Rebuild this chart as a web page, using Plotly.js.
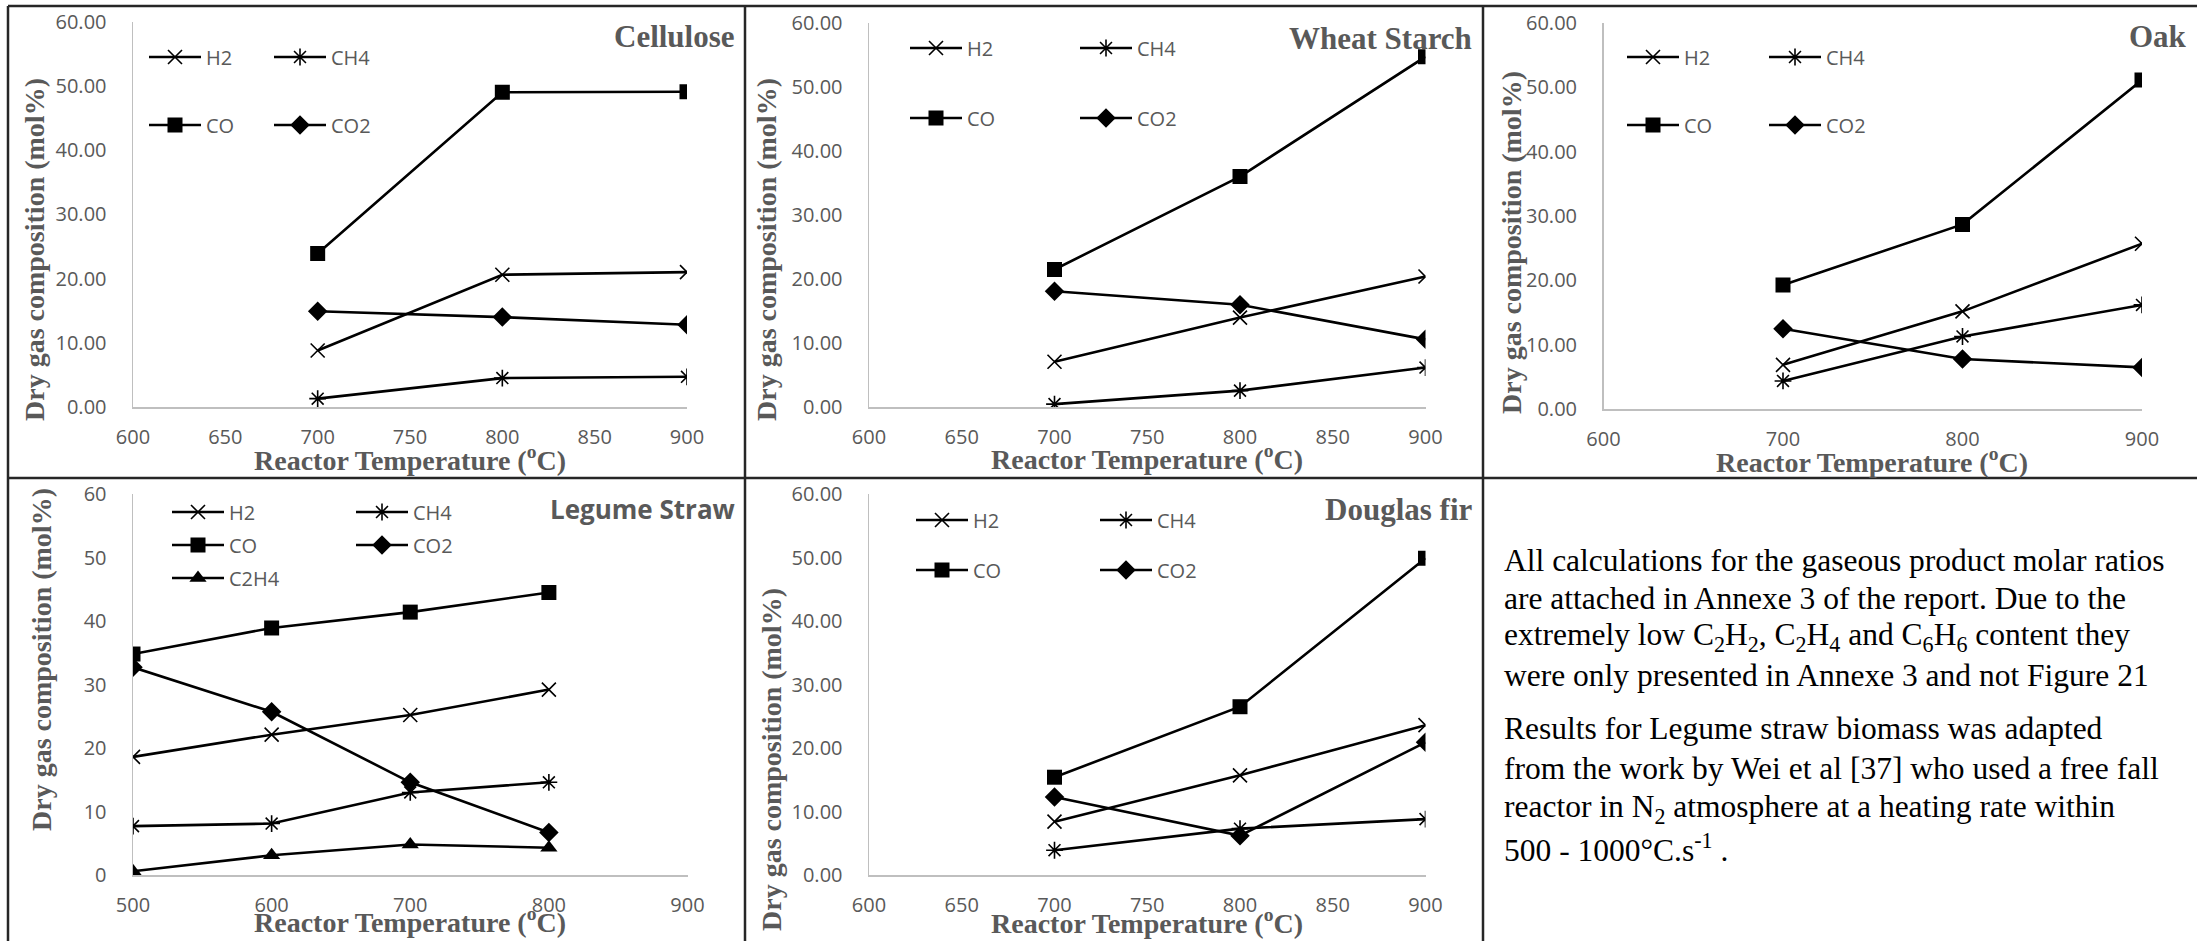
<!DOCTYPE html>
<html>
<head>
<meta charset="utf-8">
<script src="https://cdn.plot.ly/plotly-3.0.1.min.js"></script>
<style>html,body{margin:0;padding:0;background:#fff;}#chart{width:2197px;height:941px;}</style>
</head>
<body>
<div id="chart"></div>
<script>
// ---------- data ----------
const tempsHigh = [700, 800, 900];
const tempsLegume = [500, 600, 700, 800];

const cellH2  = [8.8, 20.6, 21.0];
const cellCH4 = [1.3, 4.5, 4.7];
const cellCO  = [23.9, 49.0, 49.1];
const cellCO2 = [14.9, 14.0, 12.8];

const wheatH2  = [7.1, 14.0, 20.4];
const wheatCH4 = [0.5, 2.6, 6.2];
const wheatCO  = [21.5, 36.0, 54.7];
const wheatCO2 = [18.1, 16.0, 10.6];

const oakH2  = [6.9, 15.2, 25.7];
const oakCH4 = [4.4, 11.3, 16.2];
const oakCO  = [19.3, 28.7, 51.1];
const oakCO2 = [12.5, 7.8, 6.5];

const legH2   = [18.6, 22.1, 25.2, 29.2];
const legCH4  = [7.7, 8.1, 13.0, 14.6];
const legCO   = [34.8, 38.9, 41.4, 44.5];
const legCO2  = [32.7, 25.7, 14.6, 6.7];
const legC2H4 = [0.6, 3.1, 4.8, 4.3];

const firH2  = [8.4, 15.7, 23.6];
const firCH4 = [3.9, 7.3, 8.8];
const firCO  = [15.4, 26.5, 49.9];
const firCO2 = [12.3, 6.2, 20.9];

const panelTitles = ["Cellulose", "Wheat Starch", "Oak", "Legume Straw", "Douglas fir"];
const yTitle = "Dry gas composition (mol%)";
const xTitle = "Reactor Temperature (<sup>o</sup>C)";
const para1Lines = [
  "All calculations for the gaseous product molar ratios",
  "are attached in Annexe 3 of the report. Due to the",
  "extremely low C<sub>2</sub>H<sub>2</sub>, C<sub>2</sub>H<sub>4</sub> and C<sub>6</sub>H<sub>6</sub> content they",
  "were only presented in Annexe 3 and not Figure 21"
];
const para2Lines = [
  "Results for Legume straw biomass was adapted",
  "from the work by Wei et al [37] who used a free fall",
  "reactor in N<sub>2</sub> atmosphere at a heating rate within",
  "500 - 1000°C.s<sup>-1</sup> ."
];

// ---------- styling / geometry ----------
const W = 2197, H = 941;
const fx = v => v / W;
const fy = v => 1 - v / H;
const GREY = '#595959';
const TICKFONT = {family: 'Open Sans, Arial, sans-serif', size: 20, color: GREY};
const SERIFB = 'Liberation Serif, Times New Roman, serif';

const styles = {
  H2:   {symbol: 'x-thin-open', size: 14, lw: 1.6},
  CH4:  {symbol: 'asterisk-open', size: 14, lw: 1.6},
  CO:   {symbol: 'square', size: 15, lw: 0},
  CO2:  {symbol: 'diamond', size: 15, lw: 0},
  C2H4: {symbol: 'triangle-up', size: 15, lw: 0}
};

// panel geometry (pixels)
const panels = [
  {ax: '',  x: [133, 687],    y: [21.7, 407],   xr: [600, 900], dx: 50,  fmt: '.2f',
   legA: 149, legB: 274, rows: [57, 125]},
  {ax: '2', x: [869, 1425.5], y: [22.7, 407.3], xr: [600, 900], dx: 50,  fmt: '.2f',
   legA: 910, legB: 1080, rows: [48, 118]},
  {ax: '3', x: [1603.5, 2142], y: [22.7, 409.3], xr: [600, 900], dx: 100, fmt: '.2f',
   legA: 1627, legB: 1769, rows: [57, 125]},
  {ax: '4', x: [133, 687.5],  y: [494, 875],    xr: [500, 900], dx: 100, fmt: 'd',
   legA: 172, legB: 356, rows: [512, 545, 578]},
  {ax: '5', x: [869, 1425.5], y: [494, 875],    xr: [600, 900], dx: 50,  fmt: '.2f',
   legA: 916, legB: 1100, rows: [520, 570]}
];

const panelSeries = [
  {xs: tempsHigh, s: [['H2', cellH2], ['CO', cellCO], ['CH4', cellCH4], ['CO2', cellCO2]]},
  {xs: tempsHigh, s: [['H2', wheatH2], ['CO', wheatCO], ['CH4', wheatCH4], ['CO2', wheatCO2]]},
  {xs: tempsHigh, s: [['H2', oakH2], ['CO', oakCO], ['CH4', oakCH4], ['CO2', oakCO2]]},
  {xs: tempsLegume, s: [['H2', legH2], ['CO', legCO], ['C2H4', legC2H4], ['CH4', legCH4], ['CO2', legCO2]]},
  {xs: tempsHigh, s: [['H2', firH2], ['CO', firCO], ['CH4', firCH4], ['CO2', firCO2]]}
];
const colB = new Set(['CH4', 'CO2']);

const traces = [];
const layout = {
  width: W, height: H,
  margin: {l: 0, r: 0, t: 0, b: 0},
  paper_bgcolor: '#fff', plot_bgcolor: 'rgba(0,0,0,0)',
  showlegend: true,
  annotations: [], shapes: []
};

let legN = 1;
panels.forEach((p, i) => {
  const xa = 'xaxis' + p.ax, ya = 'yaxis' + p.ax;
  layout[xa] = {
    domain: [fx(p.x[0]), fx(p.x[1])], anchor: 'y' + p.ax,
    range: p.xr, dtick: p.dx, tick0: p.xr[0],
    showline: true, linecolor: '#bfbfbf', linewidth: 1.5,
    showgrid: false, zeroline: false,
    ticks: 'outside', ticklen: 11, tickcolor: 'rgba(0,0,0,0)',
    tickfont: TICKFONT, fixedrange: true
  };
  layout[ya] = {
    domain: [fy(p.y[1]), fy(p.y[0])], anchor: 'x' + p.ax,
    range: [0, 60], dtick: 10, tick0: 0, tickformat: p.fmt,
    showline: true, linecolor: '#bfbfbf', linewidth: 1.5,
    showgrid: false, zeroline: false,
    ticks: 'outside', ticklen: 21, tickcolor: 'rgba(0,0,0,0)',
    tickfont: TICKFONT, fixedrange: true
  };
  const legAKey = legN === 1 ? 'legend' : 'legend' + legN; legN++;
  const legBKey = 'legend' + legN; legN++;
  const gap = p.rows[1] - p.rows[0];
  const legCommon = {
    orientation: 'v', traceorder: 'grouped', tracegroupgap: gap - 29,
    itemwidth: 52, bgcolor: 'rgba(0,0,0,0)', borderwidth: 0,
    font: {family: 'Open Sans, Arial, sans-serif', size: 20, color: GREY},
    xanchor: 'left', yanchor: 'top', y: fy(p.rows[0] - 19.5),
    itemclick: false, itemdoubleclick: false
  };
  layout[legAKey] = Object.assign({}, legCommon, {x: fx(p.legA - 5)});
  layout[legBKey] = Object.assign({}, legCommon, {x: fx(p.legB - 5)});

  panelSeries[i].s.forEach(([name, ys]) => {
    const st = styles[name];
    traces.push({
      type: 'scatter', mode: 'lines+markers', name: name,
      x: panelSeries[i].xs, y: ys,
      xaxis: 'x' + p.ax, yaxis: 'y' + p.ax,
      legend: colB.has(name) ? legBKey : legAKey,
      legendgroup: 'p' + i + name,
      line: {color: '#000', width: 2.6},
      marker: {symbol: st.symbol, size: st.size, color: '#000',
               line: {color: '#000', width: st.lw}},
      hoverinfo: 'x+y+name'
    });
  });
});

// panel titles
const titlePos = [
  {x: 737, y: 37, serif: true}, {x: 1474, y: 39, serif: true}, {x: 2189, y: 37, serif: true},
  {x: 737, y: 509, serif: false}, {x: 1474, y: 509, serif: true}
];
titlePos.forEach((t, i) => {
  layout.annotations.push({
    text: panelTitles[i], xref: 'paper', yref: 'paper', x: fx(t.x), y: fy(t.y),
    xanchor: 'right', yanchor: 'middle', showarrow: false,
    font: t.serif ? {family: SERIFB, size: 31, color: GREY, weight: 700}
                  : {family: 'Open Sans, Arial, sans-serif', size: 26, color: GREY, weight: 700}
  });
});

// axis titles
const yTitlePos = [[35, 250], [767, 250], [1511, 243], [41, 660], [771, 760]];
const xTitlePos = [[410, 458], [1147, 457], [1872, 460], [410, 920], [1147, 921]];
yTitlePos.forEach(([x, y]) => layout.annotations.push({
  text: yTitle, xref: 'paper', yref: 'paper', x: fx(x), y: fy(y), textangle: -90,
  xanchor: 'center', yanchor: 'middle', showarrow: false,
  font: {family: SERIFB, size: 28, color: GREY, weight: 700}
}));
xTitlePos.forEach(([x, y]) => layout.annotations.push({
  text: xTitle, xref: 'paper', yref: 'paper', x: fx(x), y: fy(y),
  xanchor: 'center', yanchor: 'middle', showarrow: false,
  font: {family: SERIFB, size: 28, color: GREY, weight: 700}
}));

// explanatory text, one annotation per line
const para1Y = [560, 598, 637, 675];
const para2Y = [728, 768, 809, 848];
[[para1Lines, para1Y], [para2Lines, para2Y]].forEach(([lines, ys]) => {
  lines.forEach((t, k) => layout.annotations.push({
    text: t, xref: 'paper', yref: 'paper', x: fx(1502), y: fy(ys[k]),
    xanchor: 'left', yanchor: 'middle', align: 'left', showarrow: false,
    font: {family: 'Liberation Serif, Times New Roman, serif', size: 31.5, color: '#000'}
  }));
});

// frame lines
const LC = '#262626';
[[8, 6, 2197, 6], [8, 6, 8, 941], [745, 6, 745, 941], [1483, 6, 1483, 941], [8, 478, 2197, 478]]
  .forEach(([x0, y0, x1, y1]) => layout.shapes.push({
    type: 'line', xref: 'paper', yref: 'paper',
    x0: fx(x0), y0: fy(y0), x1: fx(x1), y1: fy(y1),
    line: {color: LC, width: 2.5}
  }));

Plotly.newPlot('chart', traces, layout, {displayModeBar: false, staticPlot: true});
</script>
</body>
</html>
